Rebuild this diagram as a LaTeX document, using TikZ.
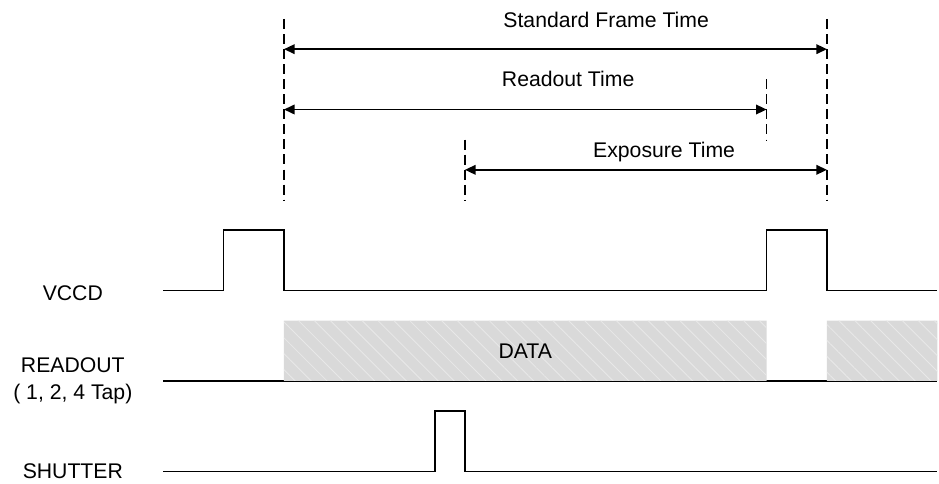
\documentclass[tikz,border=0pt]{standalone}
\usepackage{fontspec}
\setmainfont{Liberation Sans}
\usetikzlibrary{arrows.meta,patterns.meta}
\definecolor{datagray}{HTML}{D9D9D9}
\definecolor{datahatch}{HTML}{E8E8E8}

\begin{document}
\begin{tikzpicture}[line width=0.8pt,>={Triangle[length=5pt,width=4.5pt]}]
   \useasboundingbox (-4.707,-1.691) rectangle (10.857,6.315);
   \begin{scope}[every node/.style={inner sep=1pt}]
    \node (sft) at (5.34,5.98) {Standard Frame Time};
    \node (rot) at (4.71,5.0) {Readout Time};
    \node (ext) at (6.30,3.8) {Exposure Time};
    \node (vccd) at (-3.5,1.45) {VCCD};
    \node[align=center] (readout) at (-3.5,0) {READOUT\\[1pt]( 1, 2, 4 Tap)};
    \node (shutter) at (-3.5,-1.5) {SHUTTER};
   \end{scope}
   \begin{scope}
    \coordinate (fs1) at (0,6);
    \coordinate (fs2) at (0,3);
    \coordinate (fe1) at (9,6);
    \coordinate (fe2) at (9,3);
    \coordinate (re1) at (8,5);
    \coordinate (re2) at (8,4);
    \coordinate (es1) at (3,4);
    \coordinate (es2) at (3,3);
    \coordinate (sf1) at (0,5.5);
    \coordinate (sf2) at (9,5.5);
    \coordinate (ro1) at (0,4.5);
    \coordinate (ro2) at (8,4.5);
    \coordinate (ex1) at (3,3.5);
    \coordinate (ex2) at (9,3.5);
   \end{scope}
   \begin{scope}[every edge/.style={draw=black,dash pattern=on 4.7pt off 2.4pt}]
    \draw (fs1) edge (fs2);
    \draw (fe1) edge (fe2);
    \draw (re1) edge (re2);
    \draw (es1) edge (es2);
   \end{scope}
   \begin{scope}[every edge/.style={draw=black,<->}]
    \draw (sf1) edge (sf2);
    \draw (ro1) edge (ro2);
    \draw (ex1) edge (ex2);
   \end{scope}
   \draw (-2,0) -- (10.83,0);
   \path[fill=datagray,postaction={pattern={Lines[angle=-45,distance=5.3pt,line width=0.4pt]},pattern color=datahatch}]
    (0,0) rectangle (8,1) (9,0) rectangle (10.83,1);
   \node (data) at (4,0.5) {DATA};
   \draw (-2,1.5) -- (-1,1.5) -- (-1,2.5) -- (0,2.5) -- (0,1.5) -- (8,1.5) -- (8,2.5) -- (9,2.5) -- (9,1.5) -- (10.83,1.5);
   \draw (-2,-1.5) -- (2.5,-1.5) -- (2.5,-0.5) -- (3,-0.5) -- (3,-1.5) -- (10.83,-1.5);
\end{tikzpicture}
\end{document}
